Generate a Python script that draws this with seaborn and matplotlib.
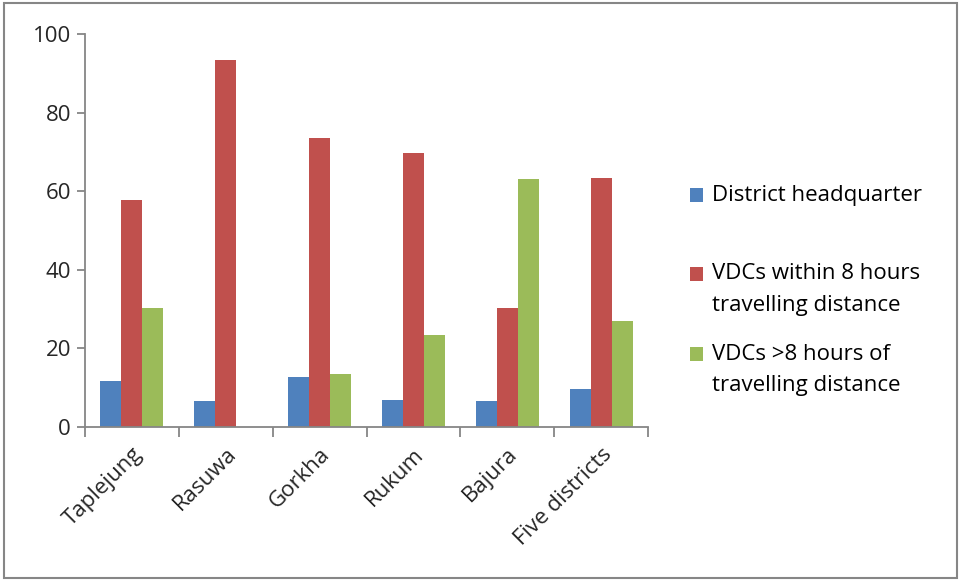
import matplotlib
matplotlib.use("Agg")
import matplotlib.pyplot as plt
import seaborn as sns
import pandas as pd
from matplotlib.patches import Rectangle

districts = ["Taplejung", "Rasuwa", "Gorkha", "Rukum", "Bajura", "Five districts"]
series_names = [
    "District headquarter",
    "VDCs within 8 hours\ntravelling distance",
    "VDCs >8 hours of\ntravelling distance",
]
headquarter = [11.8, 6.5, 12.7, 6.8, 6.6, 9.6]
within_8h = [57.8, 93.5, 73.5, 69.8, 30.4, 63.4]
beyond_8h = [30.2, 0.0, 13.6, 23.4, 63.0, 27.0]
colors = ["#4F81BD", "#C0504D", "#9BBB59"]

rows = []
for name, vals in zip(series_names, [headquarter, within_8h, beyond_8h]):
    for d, v in zip(districts, vals):
        rows.append({"District": d, "Series": name, "Percent": v})
df = pd.DataFrame(rows)

sns.set_style("white")
plt.rcParams["font.family"] = ["Open Sans", "DejaVu Sans"]

W, H = 961, 581
fig = plt.figure(figsize=(W / 100, H / 100), dpi=100)
ax = fig.add_axes([85 / W, 1 - 427 / H, 563 / W, 393 / H])

sns.barplot(data=df, x="District", y="Percent", hue="Series",
            hue_order=series_names, order=districts, palette=colors,
            width=0.67, saturation=1, errorbar=None, linewidth=0, ax=ax,
            legend=False)

axis_gray = "#868686"
ax.set_ylim(0, 100)
ax.set_xlim(-0.5, len(districts) - 0.5)
ax.set_yticks(range(0, 101, 20))
ax.set_xlabel("")
ax.set_ylabel("")
for side in ["top", "right"]:
    ax.spines[side].set_visible(False)
for side in ["left", "bottom"]:
    ax.spines[side].set_color(axis_gray)
    ax.spines[side].set_linewidth(1.3)

# category boundary ticks on the x axis, labels centred on each group
ax.set_xticks([i - 0.5 for i in range(len(districts) + 1)])
ax.set_xticklabels([])
ax.set_xticks(range(len(districts)), minor=True)
ax.set_xticklabels(districts, minor=True, rotation=45, ha="right",
                   rotation_mode="anchor", fontsize=16)
ax.tick_params(axis="x", which="major", direction="out", length=7,
               width=1.3, color=axis_gray, bottom=True)
ax.tick_params(axis="x", which="minor", length=0, pad=12)
ax.tick_params(axis="y", direction="out", length=6, width=1.3,
               color=axis_gray, left=True, labelsize=16, pad=4)

# legend: colour square beside the first line of each (possibly wrapped) label
entry_tops = [195, 274, 354]
line_gap = 32
for name, color, y0 in zip(series_names, colors, entry_tops):
    fig.patches.append(Rectangle((690 / W, 1 - (y0 + 7) / H), 13 / W, 14 / H,
                                 transform=fig.transFigure, facecolor=color,
                                 edgecolor="none"))
    for k, line in enumerate(name.split("\n")):
        fig.text(712 / W, 1 - (y0 + k * line_gap) / H, line, fontsize=16,
                 va="center", ha="left", color="black")

fig.patches.append(Rectangle((0.004, 0.006), 0.992, 0.988, transform=fig.transFigure,
                             fill=False, edgecolor=axis_gray, linewidth=1.5))

fig.savefig("out.png", dpi=100)
